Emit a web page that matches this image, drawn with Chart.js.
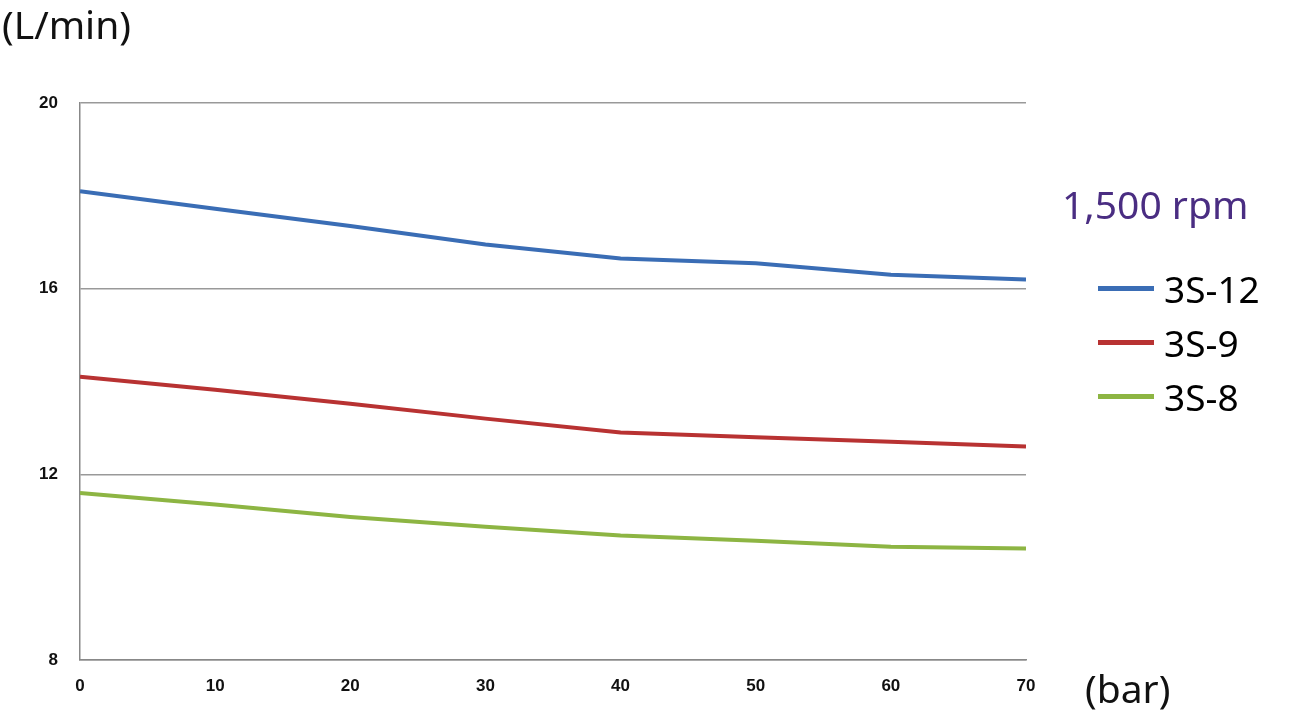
<!DOCTYPE html>
<html><head><meta charset="utf-8">
<script src="https://cdn.jsdelivr.net/npm/chart.js@4"></script>
<style>
body{margin:0;background:#fff;font-family:"Noto Sans",sans-serif;}
#wrap{position:relative;width:1291px;height:720px;}
.t{position:absolute;color:#111;font-size:39px;line-height:1;white-space:nowrap;}
.leg{position:absolute;left:1098px;font-size:37px;line-height:1;display:flex;align-items:center;}
.leg span{display:inline-block;width:56px;height:5px;margin-right:10px;}
</style></head><body>
<div id="wrap">
<canvas id="c" width="1291" height="720"></canvas>
<div class="t" style="left:2px;top:4px">(L/min)</div>
<div class="t" style="left:1085px;top:668px">(bar)</div>
<div class="t" style="left:1062px;top:184px;color:#4a2d82">1,500 rpm</div>
<div id="legend"></div>
</div>
<script>
const pressures = [0, 10, 20, 30, 40, 50, 60, 70];
const seriesNames = ['3S-12', '3S-9', '3S-8'];
const s3s12 = [18.1, 17.72, 17.35, 16.95, 16.65, 16.55, 16.3, 16.2];
const s3s9 = [14.1, 13.82, 13.52, 13.2, 12.9, 12.8, 12.7, 12.6];
const s3s8 = [11.6, 11.35, 11.08, 10.87, 10.68, 10.57, 10.44, 10.4];
const yTicks = [8, 12, 16, 20];
const colors = ['#3a6db5', '#b83232', '#8db543'];

const legend = document.getElementById('legend');
seriesNames.forEach((n, i) => {
    const d = document.createElement('div');
    d.className = 'leg';
    d.style.top = (270 + i * 54) + 'px';
    d.innerHTML = `<span style="background:${colors[i]}"></span>${n}`;
    legend.appendChild(d);
});

new Chart(document.getElementById('c'), {
    type: 'line',
    data: {
        labels: pressures,
        datasets: [s3s12, s3s9, s3s8].map((d, i) => ({
            label: seriesNames[i],
            data: d.map((v, j) => ({x: pressures[j], y: v})),
            borderColor: colors[i],
            borderWidth: 4,
            pointRadius: 0,
            tension: 0
        }))
    },
    options: {
        responsive: false,
        animation: false,
        layout: {padding: {top: 103, right: 265, left: 0, bottom: 0}},
        plugins: {legend: {display: false}, tooltip: {enabled: false}},
        scales: {
            x: {
                type: 'linear', min: 0, max: 70,
                ticks: {stepSize: 10, color: '#111', font: {size: 17, weight: 'bold'}, padding: 8},
                grid: {display: false},
                border: {color: '#888', width: 1.5},
                afterFit: s => { s.height = 60; }
            },
            y: {
                min: 8, max: 20,
                afterBuildTicks: s => { s.ticks = yTicks.map(v => ({value: v})); },
                ticks: {color: '#111', font: {size: 17, weight: 'bold'}, padding: 22},
                grid: {color: '#999', lineWidth: 1.5, drawTicks: false},
                border: {color: '#888', width: 1.5},
                afterFit: s => { s.width = 80; }
            }
        }
    }
});
</script>
</body></html>
